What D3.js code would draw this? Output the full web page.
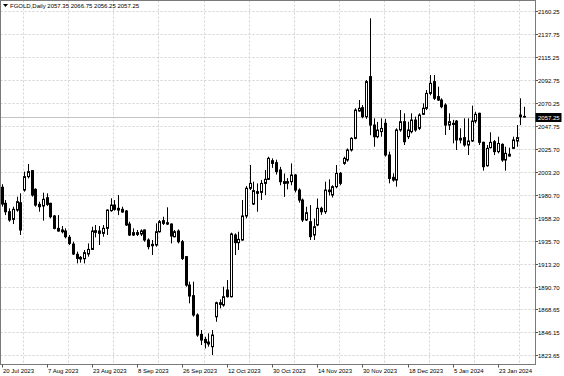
<!DOCTYPE html>
<html><head><meta charset="utf-8">
<script src="https://cdn.jsdelivr.net/npm/d3@7"></script>
<style>
html,body{margin:0;padding:0;background:#fff;}
svg{display:block;}
text{font-family:"Liberation Sans",Arial,sans-serif;}
</style>
</head><body>
<svg id="c" width="564" height="376"></svg>
<script>
const headerText = "FGOLD,Daily  2057.35 2066.75 2056.25 2057.25";
const lastPrice = 2057.25;

const openV = [1988.0,1972.3,1964.1,1956.6,1965.7,1972.9,1985.3,1998.4,2004.3,1986.0,
1971.3,1969.7,1977.8,1972.3,1959.9,1947.8,1946.2,1945.2,1939.0,1932.4,
1922.4,1919.4,1918.1,1922.7,1927.2,1945.5,1942.9,1942.9,1947.8,1965.1,
1970.6,1967.4,1966.4,1964.8,1952.0,1941.3,1943.6,1942.3,1946.2,1936.4,
1932.1,1931.5,1944.5,1955.3,1953.3,1952.0,1939.6,1945.2,1934.7,1920.1,
1892.3,1881.9,1863.0,1844.0,1839.1,1836.5,1832.0,1861.3,1875.0,1872.7,
1887.4,1880.9,1941.3,1933.8,1936.4,1959.9,1987.0,1971.6,1983.7,1983.0,
1991.8,1995.8,2014.0,2012.1,2004.9,1993.5,1992.0,1993.5,2000.0,1985.3,
1975.5,1956.0,1954.3,1941.3,1951.1,1967.4,1964.1,1985.3,1980.4,1988.6,
2001.6,2011.4,2014.7,2024.5,2035.9,2062.7,2065.9,2057.1,2096.3,2048.9,
2037.5,2042.5,2050.6,2019.6,1997.7,1995.1,2044.1,2052.2,2037.5,2042.4,
2053.8,2045.7,2059.4,2065.3,2079.9,2091.4,2076.7,2073.4,2068.5,2048.9,
2050.6,2052.8,2035.9,2036.6,2029.4,2033.3,2052.8,2060.4,2032.0,2009.1,
2026.8,2032.6,2022.9,2030.0,2014.7,2020.3,2026.1,2033.3,2057.1,2057.35];

const highV = [1991.0,1975.5,1967.4,1969.0,1978.8,1982.1,2003.3,2010.8,2004.9,1987.0,
1973.9,1982.7,1982.1,1972.9,1960.8,1960.8,1950.1,1947.8,1941.3,1934.7,
1925.0,1920.7,1926.6,1933.1,1949.4,1951.1,1950.1,1951.1,1966.4,1977.2,
1975.5,1980.4,1969.0,1965.7,1954.3,1947.8,1946.2,1946.8,1946.8,1938.0,
1936.4,1952.7,1956.0,1959.2,1968.4,1952.7,1946.2,1946.8,1936.4,1920.7,
1895.6,1895.6,1864.6,1848.3,1841.7,1845.0,1848.3,1876.0,1878.3,1890.7,
1897.2,1943.6,1942.9,1944.5,1975.5,1989.2,2009.8,1993.5,1991.8,1995.1,
2004.9,2017.9,2016.3,2015.0,2008.0,2001.5,1997.0,2011.4,2001.0,1987.0,
1977.0,1969.0,1970.6,1957.6,1977.0,1969.0,1993.5,1995.8,1990.0,2009.8,
2003.0,2018.0,2026.0,2037.0,2065.3,2073.4,2068.5,2093.0,2153.4,2055.5,
2052.0,2055.5,2055.0,2022.9,2001.6,2045.7,2063.6,2060.4,2052.2,2060.4,
2057.1,2060.4,2070.2,2083.2,2097.9,2097.9,2086.5,2075.1,2070.2,2060.4,
2054.0,2053.8,2045.7,2055.5,2055.5,2067.9,2062.0,2061.0,2032.6,2029.4,
2041.8,2034.3,2037.5,2031.0,2027.7,2026.8,2037.5,2048.9,2075.1,2066.75];

const lowV = [1969.0,1960.8,1954.3,1952.0,1964.1,1941.3,1983.7,1996.7,1978.8,1969.0,
1964.1,1955.3,1969.7,1957.6,1946.8,1944.5,1942.9,1938.0,1931.5,1921.7,
1913.5,1914.2,1913.5,1920.1,1926.6,1939.0,1931.5,1939.6,1941.3,1964.1,
1965.1,1960.8,1963.1,1950.1,1940.3,1940.3,1940.3,1940.3,1934.7,1927.2,
1921.7,1929.9,1943.6,1951.1,1951.1,1933.1,1939.0,1933.1,1916.8,1890.7,
1874.4,1861.3,1841.7,1833.6,1830.3,1832.0,1823.8,1856.4,1869.5,1871.1,
1880.2,1880.2,1921.7,1926.6,1935.7,1957.6,1985.3,1970.6,1964.1,1975.5,
1980.4,1995.1,2007.0,2000.5,1990.0,1978.6,1986.0,1990.0,1983.0,1973.0,
1954.0,1955.0,1936.4,1936.4,1950.0,1961.0,1962.0,1980.0,1978.0,1987.0,
1990.0,2010.0,2013.0,2023.0,2035.0,2062.0,2055.5,2055.0,2039.0,2027.7,
2036.0,2037.5,2018.0,1991.9,1993.5,1988.6,2042.4,2029.4,2035.2,2040.8,
2042.4,2044.0,2058.7,2063.6,2078.0,2073.4,2072.5,2065.3,2039.2,2044.1,
2031.0,2024.5,2031.0,2027.7,2019.6,2032.6,2050.6,2029.4,2004.3,2008.2,
2026.1,2019.6,2021.2,2013.0,2004.3,2018.0,2025.5,2027.7,2048.9,2056.25];

const closeV = [1971.6,1964.1,1956.0,1966.4,1973.9,1946.2,1998.4,2003.3,1980.4,1970.6,
1969.0,1976.2,1971.3,1959.2,1947.8,1945.2,1944.5,1939.6,1933.1,1922.7,
1918.4,1917.8,1924.0,1927.2,1945.2,1943.9,1945.2,1947.8,1965.7,1970.6,
1966.4,1965.7,1963.8,1951.1,1941.3,1943.6,1941.9,1945.2,1936.4,1929.9,
1930.8,1944.5,1954.3,1952.7,1952.0,1940.3,1944.5,1934.7,1918.4,1892.3,
1881.6,1863.0,1843.4,1838.5,1835.9,1834.6,1843.4,1875.0,1873.4,1880.9,
1880.9,1942.3,1933.8,1937.0,1959.9,1987.0,1991.8,1984.7,1982.1,1991.8,
1995.8,2016.3,2011.4,2003.3,1993.5,1991.8,1993.5,2000.0,1985.3,1975.5,
1956.0,1963.1,1939.7,1949.4,1967.4,1964.1,1985.3,1983.7,1988.6,2001.6,
1991.9,2016.3,2024.5,2035.9,2063.6,2065.3,2057.1,2091.4,2048.9,2037.5,
2044.0,2045.6,2019.6,1996.7,1995.1,2044.1,2052.2,2032.6,2044.1,2053.8,
2044.1,2058.7,2065.3,2079.9,2089.7,2075.1,2073.4,2066.9,2048.9,2052.2,
2049.5,2034.3,2034.3,2029.4,2033.3,2052.8,2059.4,2032.0,2008.2,2026.1,
2032.0,2022.9,2030.9,2014.7,2021.2,2018.6,2034.3,2036.6,2058.7,2057.25];

const priceTicks = [2160.25,2137.75,2115.25,2092.75,2070.25,2047.75,2025.70,2003.20,
1980.70,1958.20,1935.70,1913.20,1890.70,1868.65,1846.15,1823.65];

const dateLabels = ["20 Jul 2023","7 Aug 2023","23 Aug 2023","8 Sep 2023","26 Sep 2023",
"12 Oct 2023","30 Oct 2023","14 Nov 2023","30 Nov 2023","18 Dec 2023","5 Jan 2024","23 Jan 2024"];
const dateLabelBars = [0,12,24,36,48,60,72,84,96,108,120,132];
const gridBars = [6,18,30,42,54,66,78,90,102,114,126,138];

const W = 564, H = 376;
const plotL = 0.5, plotR = 535.5, plotT = 0.5, plotB = 364.5;

const svg = d3.select("#c");
const n = openV.length;
const data = d3.range(n).map(i => ({i, o: openV[i], h: highV[i], l: lowV[i], c: closeV[i]}));

const x = d3.scaleLinear().domain([0, n - 1]).range([1.5, 1.5 + 3.76 * (n - 1)]);
const y = d3.scaleLinear().domain([1823.65, 2160.25]).range([355.2, 11.3]);

svg.append("rect").attr("width", W).attr("height", H).attr("fill", "#fff");

const grid = svg.append("g").attr("stroke", "#d2d2d2").attr("stroke-dasharray", "2,2").attr("stroke-width", 1);
priceTicks.forEach(v => {
  const yy = Math.round(y(v)) + 0.5;
  grid.append("line").attr("x1", plotL).attr("x2", plotR).attr("y1", yy).attr("y2", yy);
});
gridBars.forEach(b => {
  const xx = Math.round(x(b)) - 0.5;
  grid.append("line").attr("x1", xx).attr("x2", xx).attr("y1", plotT).attr("y2", plotB);
});

// last price line
const ly = Math.round(y(lastPrice)) + 0.5;
svg.append("line").attr("x1", plotL).attr("x2", plotR).attr("y1", ly).attr("y2", ly)
  .attr("stroke", "#c4c4c4").attr("stroke-width", 1);

// candles
const cg = svg.append("g");
data.forEach(d => {
  const cx = Math.round(x(d.i));
  cg.append("line").attr("x1", cx + 0.5).attr("x2", cx + 0.5)
    .attr("y1", y(d.h)).attr("y2", y(d.l)).attr("stroke", "#000").attr("stroke-width", 1);
  const top = y(Math.max(d.o, d.c)), bot = y(Math.min(d.o, d.c));
  const up = d.c >= d.o;
  cg.append("rect").attr("x", cx - 0.5).attr("width", 2)
    .attr("y", top).attr("height", Math.max(bot - top, 0.6))
    .attr("fill", up ? "#fff" : "#000").attr("stroke", "#000").attr("stroke-width", 1);
});

// frame
svg.append("rect").attr("x", plotL).attr("y", plotT).attr("width", plotR - plotL).attr("height", plotB - plotT)
  .attr("fill", "none").attr("stroke", "#7a7a7a").attr("stroke-width", 1);

// price axis labels
const pa = svg.append("g").attr("font-size", "6px").attr("fill", "#000");
priceTicks.forEach(v => {
  const yy = Math.round(y(v)) + 0.5;
  svg.append("line").attr("x1", plotR).attr("x2", plotR + 2.5).attr("y1", yy).attr("y2", yy).attr("stroke", "#555");
  pa.append("text").attr("x", 538).attr("y", yy + 2.2).text(v.toFixed(2));
});

// last price box
svg.append("rect").attr("x", 535.5).attr("y", ly - 4.5).attr("width", 26).attr("height", 9).attr("fill", "#000");
svg.append("text").attr("x", 538).attr("y", ly + 2.2).attr("font-size", "6px").attr("fill", "#fff").text(lastPrice.toFixed(2));

// date labels
const da = svg.append("g").attr("font-size", "6px").attr("fill", "#000");
dateLabels.forEach((t, k) => {
  const xx = Math.round(x(dateLabelBars[k])) + 0.5;
  svg.append("line").attr("x1", xx).attr("x2", xx).attr("y1", plotB).attr("y2", plotB + 3).attr("stroke", "#555");
  da.append("text").attr("x", xx + 0.5).attr("y", 372.5).text(t);
});

// header
svg.append("path").attr("d", "M3,4 L8,4 L5.5,7 Z").attr("fill", "#000");
svg.append("text").attr("x", 10).attr("y", 8).attr("font-size", "6px").attr("fill", "#000").text(headerText);
</script>
</body></html>
